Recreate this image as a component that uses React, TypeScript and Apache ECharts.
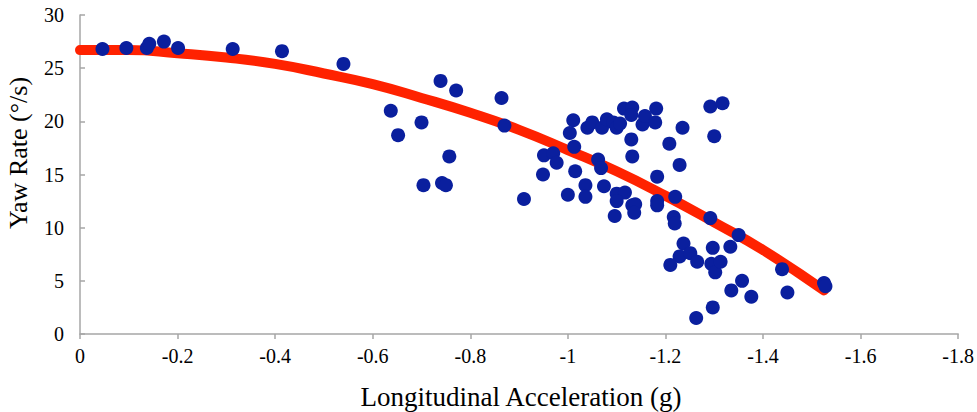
import React, { useEffect, useRef } from "react";
import * as echarts from "echarts";

// Scatter observations (longitudinal acceleration in g, yaw rate in °/s)
const accelG = [
  -0.046, -0.095, -0.137, -0.142, -0.172, -0.201, -0.313, -0.414, -0.54,
  -0.739, -0.771, -0.864, -0.637, -0.7, -0.87, -0.652, -0.757, -0.704, -0.742, -0.75,
  -0.91, -0.951, -0.97, -0.977, -0.949,
  -1.011, -1.004, -1.013, -1.015, -1.0, -1.036, -1.036, -1.04, -1.05, -1.07,
  -1.08, -1.093, -1.1, -1.107, -1.062, -1.068, -1.074, -1.1, -1.117, -1.1,
  -1.096, -1.115, -1.132, -1.13, -1.153, -1.158, -1.181, -1.179, -1.13, -1.132,
  -1.132, -1.138, -1.136, -1.183, -1.183, -1.183, -1.208, -1.235, -1.229, -1.22,
  -1.217, -1.219, -1.292, -1.317, -1.3, -1.292,
  -1.237, -1.229, -1.251, -1.265, -1.21, -1.297, -1.294, -1.302, -1.313, -1.297,
  -1.263, -1.35, -1.439, -1.525, -1.528, -1.45, -1.333, -1.357, -1.335, -1.376,
];
const yawRate = [
  26.8, 26.9, 26.9, 27.3, 27.5, 26.9, 26.8, 26.6, 25.4,
  23.8, 22.9, 22.2, 21.0, 19.9, 19.6, 18.7, 16.7, 14.0, 14.2, 14.0,
  12.7, 16.8, 17.0, 16.1, 15.0,
  20.1, 18.9, 17.6, 15.3, 13.1, 14.0, 12.9, 19.4, 19.9, 19.4,
  20.2, 19.9, 19.4, 19.8, 16.4, 15.6, 13.9, 13.2, 13.3, 12.5,
  11.1, 21.2, 21.3, 20.6, 19.7, 20.5, 21.2, 19.9, 18.3, 16.7,
  12.1, 12.2, 11.4, 14.8, 12.5, 12.1, 17.9, 19.4, 15.9, 12.9,
  11.0, 10.4, 21.4, 21.7, 18.6, 10.9,
  8.5, 7.3, 7.6, 6.8, 6.5, 8.1, 6.6, 5.8, 6.8, 2.5,
  1.5, 9.3, 6.1, 4.8, 4.5, 3.9, 8.2, 5.0, 4.1, 3.5,
];

// Fitted trend curve
const trendX = [0, -0.1, -0.2, -0.3, -0.4, -0.5, -0.6, -0.7, -0.8, -0.9, -1.0, -1.1, -1.2, -1.3, -1.4, -1.525];
const trendY = [26.7, 26.7, 26.4, 26.0, 25.4, 24.5, 23.5, 22.2, 20.8, 19.2, 17.3, 15.3, 13.0, 10.5, 7.9, 4.1];

// Axis ticks
const xTicks = { min: -1.8, max: 0, step: 0.2 };
const yTicks = { min: 0, max: 30, step: 5 };

const xTitle = "Longitudinal Acceleration (g)";
const yTitle = "Yaw Rate (°/s)";

const SERIF = "Liberation Serif";

export default function App() {
  const ref = useRef<HTMLDivElement>(null);

  useEffect(() => {
    if (!ref.current) return;
    const chart = echarts.init(ref.current, undefined, { renderer: "svg" });
    const axisColor = "#a6a6a6";
    const fmt = (v: number) => {
      const r = parseFloat(v.toFixed(1));
      return r === 0 ? "0" : String(r);
    };
    chart.setOption({
      animation: false,
      backgroundColor: "#ffffff",
      grid: { left: 80, right: 16, top: 15, bottom: 78, containLabel: false },
      xAxis: {
        type: "value",
        min: xTicks.min,
        max: xTicks.max,
        interval: xTicks.step,
        inverse: true,
        axisLine: { show: true, onZero: false, lineStyle: { color: axisColor, width: 1.5 } },
        axisTick: { show: true, inside: false, length: 5, lineStyle: { color: axisColor, width: 1.5 } },
        splitLine: { show: false },
        axisLabel: {
          color: "#000",
          fontFamily: SERIF,
          fontSize: 20,
          margin: 12,
          formatter: fmt,
        },
      },
      yAxis: {
        type: "value",
        min: yTicks.min,
        max: yTicks.max,
        interval: yTicks.step,
        axisLine: { show: true, onZero: false, lineStyle: { color: axisColor, width: 1.5 } },
        axisTick: { show: true, inside: true, length: 5, lineStyle: { color: axisColor, width: 1.5 } },
        splitLine: { show: false },
        axisLabel: {
          color: "#000",
          fontFamily: SERIF,
          fontSize: 20,
          margin: 16,
        },
      },
      graphic: [
        {
          type: "text",
          x: 521,
          y: 397,
          style: {
            text: xTitle,
            fill: "#000",
            fontFamily: SERIF,
            fontSize: 27,
            align: "center",
            verticalAlign: "middle",
            textAlign: "center",
            textVerticalAlign: "middle",
          },
        },
        {
          type: "text",
          x: 18,
          y: 153,
          rotation: Math.PI / 2,
          style: {
            text: yTitle,
            fill: "#000",
            fontFamily: SERIF,
            fontSize: 26,
            align: "center",
            verticalAlign: "middle",
            textAlign: "center",
            textVerticalAlign: "middle",
          },
        },
      ],
      series: [
        {
          type: "line",
          data: trendX.map((x, i) => [x, trendY[i]]),
          smooth: true,
          showSymbol: false,
          symbol: "none",
          clip: true,
          z: 2,
          lineStyle: { color: "#ff2200", width: 10, cap: "round", join: "round" },
        },
        {
          type: "scatter",
          data: accelG.map((x, i) => [x, yawRate[i]]),
          symbol: "circle",
          symbolSize: 14,
          z: 3,
          itemStyle: { color: "#0a1f9e", opacity: 1 },
        },
      ],
    });
    return () => chart.dispose();
  }, []);

  return <div ref={ref} style={{ width: 977, height: 412, position: "absolute", left: 0, top: 0 }} />;
}
